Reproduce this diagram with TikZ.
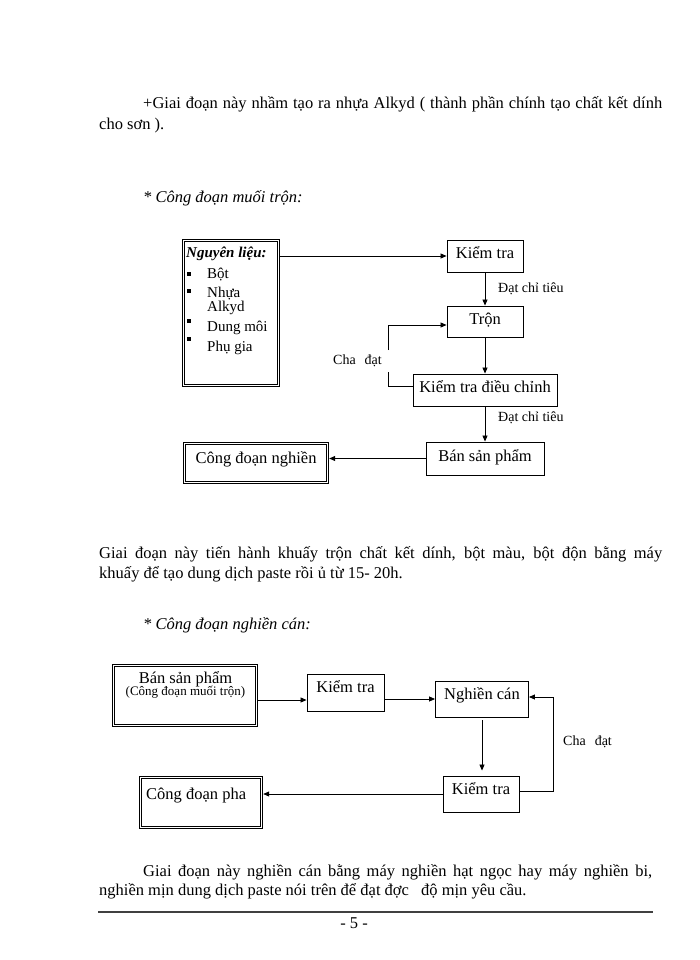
\documentclass[tikz,border=0pt]{standalone}
\usepackage{fontspec}
\setmainfont{Liberation Serif}
\usetikzlibrary{arrows.meta}
\begin{document}
\begin{tikzpicture}[x=1pt,y=-1pt,
  every node/.style={inner sep=0pt, font=\fontsize{16.5}{20}\selectfont},
  box/.style={draw, line width=0.9pt, inner sep=0pt, align=center, text height=10pt, text depth=5pt},
  tc/.style={text height=7.5pt, text depth=7.5pt},
  dbox/.style={draw, line width=1.4pt, inner sep=0pt},
  inner/.style={line width=0.7pt},
  arr/.style={line width=0.8pt, -{Triangle[length=6pt,width=5pt]}},
  ln/.style={line width=0.8pt},
  lab/.style={anchor=base west, font=\fontsize{14}{16}\selectfont},
  body/.style={anchor=base west},
  head/.style={anchor=base west, font=\itshape\fontsize{16.5}{20}\selectfont},
  item/.style={anchor=base west, font=\fontsize{15}{18}\selectfont},
]
\useasboundingbox[fill=white] (0,0) rectangle (700,960);

% ---- paragraph 1
\node[body] (p1a) at (143,109) {\makebox[519pt][s]{+Giai đoạn này nhầm tạo ra nhựa Alkyd ( thành phần chính tạo chất kết dính}};
\node[body] (p1b) at (99,130) {cho sơn ).};
\node[head] (h1) at (143,202) {* Công đoạn muối trộn:};

% ---- diagram 1
\node[dbox, minimum width=97pt, minimum height=147pt] (NL) at (231,313) {};
\draw[inner] ([shift={(2.8,2.8)}]NL.north west) rectangle ([shift={(-2.8,-2.8)}]NL.south east);
\node[anchor=base west, font=\bfseries\itshape\fontsize{15}{18}\selectfont] (NLt) at (186,257) {Nguyên liệu:};
\fill (187,272) rectangle (191,276);
\fill (187,289) rectangle (191,293);
\fill (187,319) rectangle (191,323);
\fill (187,337) rectangle (191,341);
\node[item] (i1) at (207,278) {Bột};
\node[item] (i2) at (207,297) {Nhựa};
\node[item] (i2b) at (207,311) {Alkyd};
\node[item] (i3) at (207,331) {Dung môi};
\node[item] (i4) at (207,351) {Phụ gia};

\node[box, minimum width=76pt, minimum height=32pt] (K1) at (485,256) {Kiểm tra};
\node[box, minimum width=76pt, minimum height=31pt] (TR) at (485,321.5) {Trộn};
\node[box, minimum width=144pt, minimum height=32pt] (KD) at (485,390) {Kiểm tra điều chỉnh};
\node[box, minimum width=118pt, minimum height=33pt] (BS) at (485,458.5) {Bán sản phẩm};
\node[dbox, tc, minimum width=145pt, minimum height=41pt] (CN) at (256,463) {Công đoạn nghiền};
\draw[inner] ([shift={(2.8,2.8)}]CN.north west) rectangle ([shift={(-2.8,-2.8)}]CN.south east);

\draw[arr] (NL.east |- K1.west) -- (K1.west);
\draw[arr] (K1.south) -- (TR.north);
\node[lab] (l1) at (498,292.5) {Đạt chỉ tiêu};
\draw[arr] (TR.south) -- (KD.north);
\coordinate (g1) at (388,372);
\coordinate (g2) at (388,350);
\draw[ln] ([yshift=4pt]KD.west) -| (g1);
\draw[arr] (g2) |- ([yshift=-3.5pt]TR.west);
\node[lab] (l2) at (333,364) {Cha\hspace{9pt}đạt};
\draw[arr] (KD.south) -- (BS.north);
\node[lab] (l3) at (498,421.5) {Đạt chỉ tiêu};
\draw[arr] (BS.west) -- (CN.east |- BS.west);

% ---- paragraph 2
\node[body] (p2a) at (99,558) {\makebox[563pt][s]{Giai đoạn này tiến hành khuấy trộn chất kết dính, bột màu, bột độn bằng máy}};
\node[body] (p2b) at (99,578) {khuấy để tạo dung dịch paste rồi ủ từ 15- 20h.};
\node[head] (h2) at (143,629) {* Công đoạn nghiền cán:};

% ---- diagram 2
\node[dbox, minimum width=145pt, minimum height=62pt] (B2) at (185,695.5) {};
\draw[inner] ([shift={(2.8,2.8)}]B2.north west) rectangle ([shift={(-2.8,-2.8)}]B2.south east);
\node[anchor=base] (B2t) at (185.5,683) {Bán sản phẩm};
\node[anchor=base, font=\fontsize{13}{15}\selectfont] (B2s) at (185.5,695) {(Công đoạn muối trộn)};
\node[box, tc, minimum width=77pt, minimum height=37pt] (K2) at (345.5,692.5) {Kiểm tra};
\node[box, tc, minimum width=93pt, minimum height=36pt] (NC) at (482,699) {Nghiền cán};
\node[box, tc, minimum width=76pt, minimum height=36pt] (K3) at (481,794) {Kiểm tra};
\node[dbox, minimum width=123pt, minimum height=52pt] (CP) at (201,802.5) {};
\draw[inner] ([shift={(2.8,2.8)}]CP.north west) rectangle ([shift={(-2.8,-2.8)}]CP.south east);
\node[anchor=base west] (CPt) at (146,799) {Công đoạn pha};

\coordinate (k2in) at ([yshift=-7.5pt]K2.west);
\draw[arr] (B2.east |- k2in) -- (k2in);
\draw[arr] (K2.east |- NC.west) -- (NC.west);
\draw[arr, shorten <=3pt, shorten >=5pt] (NC.south) -- (NC.south |- K3.north);
\coordinate (c2) at (553,745);
\draw[ln] ([yshift=3pt]K3.east) -| (c2);
\draw[arr] (c2) |- ([yshift=2pt]NC.east);
\node[lab] (l4) at (563,745) {Cha\hspace{9pt}đạt};
\draw[arr] (K3.west) -- (CP.east |- K3.west);

% ---- paragraph 3
\node[body] (p3a) at (143,876) {\makebox[509pt][s]{Giai đoạn này nghiền cán bằng máy nghiền hạt ngọc hay máy nghiền bi,}};
\node[body] (p3b) at (99,895) {nghiền mịn dung dịch paste nói trên để đạt đợc\hspace{8pt} độ mịn yêu cầu.};
\draw[line width=1.1pt, black!75] (98,912) -- (653,912);
\node[anchor=base] (pg) at (354,928) {- 5 -};
\end{tikzpicture}
\end{document}
